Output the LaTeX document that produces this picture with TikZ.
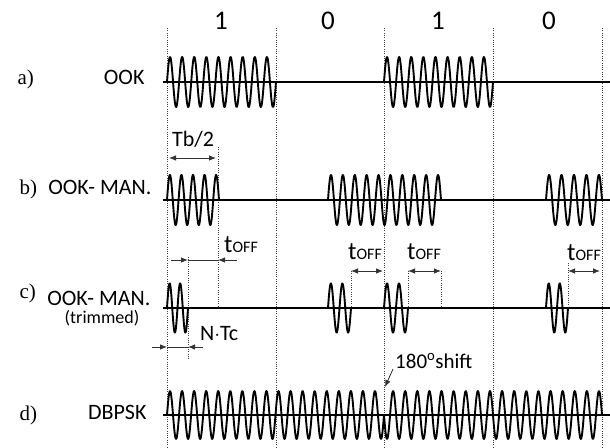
\documentclass[tikz,border=0pt]{standalone}
\usepackage{fontspec}
\setmainfont{Carlito}
\newfontfamily\serifrm{Liberation Serif}
\usetikzlibrary{arrows.meta}
\newcommand\mkburst[5]{\draw[wave] plot[domain=#1:#2, samples=400] (\x,{#3-#4*sin(((\x-#1)/(#2-#1))*360*#5)});}
\newcommand\toffsub{{\fontsize{16}{16}\selectfont OFF}}
\begin{document}
\begin{tikzpicture}[x=1pt,y=-1pt,
  wave/.style={line width=1.9pt, line join=round, black},
  baseln/.style={line width=1.2pt, black},
  gridln/.style={line width=0.7pt, dash pattern=on 0.8pt off 1.5pt, black!75},
  dimln/.style={line width=0.8pt, black!80},
  onetip/.style={dimln, -{Latex[length=7pt,width=5.5pt]}},
  twotip/.style={dimln, {Latex[length=7pt,width=5.5pt]}-{Latex[length=7pt,width=5.5pt]}},
  bitlbl/.style={anchor=base, font=\fontsize{27}{27}\selectfont},
  rowlbl/.style={anchor=base east, font=\fontsize{22}{22}\selectfont},
  letlbl/.style={anchor=base west, font=\serifrm\fontsize{21}{21}\selectfont},
  dimlbl/.style={anchor=base west, font=\fontsize{22}{22}\selectfont},
  toff/.style={anchor=base west, inner sep=0pt, font=\fontsize{25}{25}\selectfont}
]
\useasboundingbox (0,0) rectangle (610,447);

% grid
\foreach \gx in {167,276,384,493,602} \draw[gridln] (\gx,28) -- (\gx,447);
\draw[gridln] (218,147) -- (218,308);
\draw[gridln] (188,257) -- (188,360);
\draw[gridln] (351,271) -- (351,308);
\draw[gridln] (408,271) -- (408,308);
\draw[gridln] (441,271) -- (441,308);
\draw[gridln] (568,263) -- (568,308);

% bit labels
\node[bitlbl] (bit1) at (221,29) {1};
\node[bitlbl] (bit2) at (328,29) {0};
\node[bitlbl] (bit3) at (438,29) {1};
\node[bitlbl] (bit4) at (549,29) {0};

% row labels
\node[letlbl] (la) at (14,84) {a)};
\node[rowlbl] (na) at (148,84) {OOK};
\node[letlbl] (lb) at (16,194) {b)};
\node[rowlbl] (nb) at (155,194) {OOK- MAN.};
\node[letlbl] (lc) at (16,298) {c)};
\node[rowlbl] (nc) at (154,305) {OOK- MAN.};
\node[anchor=base, inner sep=0pt, font=\fontsize{18}{18}\selectfont] (nct) at (102,323) {(trimmed)};
\node[letlbl] (ld) at (16,420) {d)};
\node[rowlbl] (nd) at (150,419) {DBPSK};

% baselines
\foreach \by in {82,200,308,415} \draw[baseln] (163,\by) -- (610,\by);

% a) OOK
\mkburst{167}{276}{82}{25}{9}
\mkburst{384}{493}{82}{25}{9}

% b) OOK-MAN
\mkburst{167}{219}{200}{25}{4.5}
\mkburst{328}{441}{200}{25}{9.5}
\mkburst{546}{602}{200}{25}{4.5}

% c) trimmed
\mkburst{167}{188}{308}{24.5}{2}
\mkburst{328}{351}{308}{24.5}{2}
\mkburst{384}{408}{308}{24.5}{2}
\mkburst{546}{568}{308}{24.5}{2}

% d) DBPSK
\mkburst{167}{384}{415}{24}{18}
\mkburst{384}{602}{415}{-24}{18}

% Tb/2
\node[dimlbl, inner sep=0pt] (tb) at (172,146) {Tb/2};
\coordinate (tbL) at (169,158);
\coordinate (tbR) at (216,158);
\draw[twotip] (tbL) -- (tbR);

% first tOFF (outside arrows)
\node[toff] (t1) at (224,252) {t\toffsub};
\coordinate (t1a) at (171,260);
\coordinate (t1b) at (188,260);
\coordinate (t1c) at (218,260);
\coordinate (t1d) at (237,260);
\draw[dimln] (t1b) -- (t1c);
\draw[onetip] (t1a) -- (t1b);
\draw[onetip] (t1d) -- (t1c);

% N.Tc
\node[dimlbl, inner sep=0pt] (ntc) at (200,340) {N$\cdot$Tc};
\coordinate (n1a) at (152,347);
\coordinate (n1b) at (167,347);
\coordinate (n1c) at (188,347);
\coordinate (n1d) at (203,347);
\draw[dimln] (n1b) -- (n1c);
\draw[onetip] (n1a) -- (n1b);
\draw[onetip] (n1d) -- (n1c);

% other tOFFs
\node[toff] (t2) at (348,259) {t\toffsub};
\coordinate (t2a) at (351,271);
\coordinate (t2b) at (383,271);
\draw[twotip] (t2a) -- (t2b);
\node[toff] (t3) at (407,259) {t\toffsub};
\coordinate (t3a) at (408,271);
\coordinate (t3b) at (441,271);
\draw[twotip] (t3a) -- (t3b);
\node[toff] (t4) at (567,260) {t\toffsub};
\coordinate (t4a) at (568,271);
\coordinate (t4b) at (600,271);
\draw[twotip] (t4a) -- (t4b);

% 180 shift
\node[anchor=base west, inner sep=0pt, font=\fontsize{21}{21}\selectfont] (sh) at (395,368) {180$^{\mathrm{o}}$shift};
\coordinate (shA) at (393,369);
\coordinate (shB) at (385,387);
\draw[onetip] (shA) -- (shB);
\end{tikzpicture}
\end{document}
